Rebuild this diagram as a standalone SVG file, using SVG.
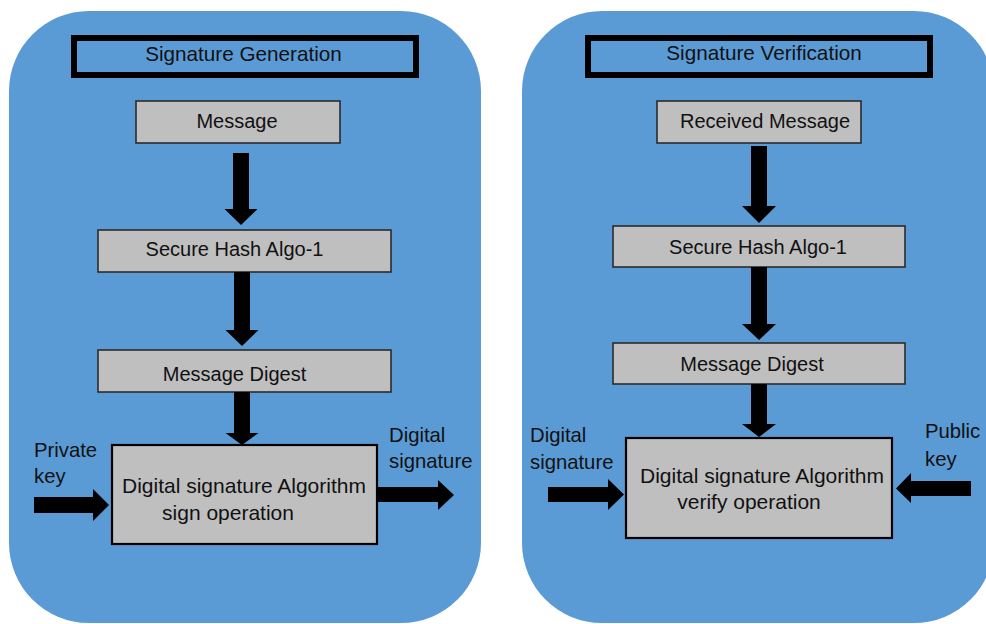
<svg xmlns="http://www.w3.org/2000/svg" width="986" height="624" viewBox="0 0 986 624">
  <style>
    .panel { fill: #5b9bd5; }
    .title { fill: none; stroke: #000; stroke-width: 6; }
    .box { fill: #bfbfbf; stroke: #2b2b2b; stroke-width: 1.6; }
    .big { fill: #bfbfbf; stroke: #000; stroke-width: 2.2; }
    .arrow { fill: #000; }
    text { font-family: "Liberation Sans", Arial, sans-serif; font-size: 20px; fill: #111; }
    .c { text-anchor: middle; }
    .alg { font-size: 21px; }
    .lbl { font-size: 20.3px; }
  </style>

  <!-- panel backgrounds -->
  <rect class="panel" x="9" y="11" width="472" height="612" rx="80" ry="80"/>
  <rect class="panel" x="522" y="11" width="472" height="612" rx="80" ry="80"/>

  <!-- Signature Generation -->
  <g id="gen-title">
    <rect class="title" x="74" y="38" width="342" height="37"/>
    <text class="c" x="243.5" y="61" style="font-size:20.7px">Signature Generation</text>
  </g>
  <g id="gen-message">
    <rect class="box" x="136" y="101" width="204" height="42"/>
    <text class="c" x="237" y="128">Message</text>
  </g>
  <g id="gen-hash">
    <rect class="box" x="98" y="230" width="293" height="42"/>
    <text class="c" x="234.5" y="256">Secure Hash Algo-1</text>
  </g>
  <g id="gen-digest">
    <rect class="box" x="98" y="350" width="293" height="42"/>
    <text class="c" x="234.5" y="381">Message Digest</text>
  </g>
  <g id="gen-dsa">
    <rect class="big" x="112" y="445" width="265" height="99"/>
    <text class="c alg" x="244" y="493">Digital signature Algorithm</text>
    <text class="c alg" x="228" y="520">sign operation</text>
  </g>
  <g id="gen-private-key">
    <text class="lbl" x="34" y="457">Private</text>
    <text class="lbl" x="34" y="483">key</text>
  </g>
  <g id="gen-signature-out">
    <text class="lbl" x="389" y="442">Digital</text>
    <text class="lbl" x="389" y="468">signature</text>
  </g>

  <!-- Signature Verification -->
  <g id="ver-title">
    <rect class="title" x="588" y="38" width="342" height="37"/>
    <text class="c" x="764" y="60" style="font-size:20.7px">Signature Verification</text>
  </g>
  <g id="ver-message">
    <rect class="box" x="657" y="101" width="204" height="42"/>
    <text class="c" x="765" y="128">Received Message</text>
  </g>
  <g id="ver-hash">
    <rect class="box" x="613" y="226" width="292" height="41"/>
    <text class="c" x="758" y="254">Secure Hash Algo-1</text>
  </g>
  <g id="ver-digest">
    <rect class="box" x="613" y="343" width="292" height="41"/>
    <text class="c" x="752" y="371">Message Digest</text>
  </g>
  <g id="ver-dsa">
    <rect class="big" x="626" y="438" width="266" height="100"/>
    <text class="c alg" x="762" y="483">Digital signature Algorithm</text>
    <text class="c alg" x="749" y="509">verify operation</text>
  </g>
  <g id="ver-signature-in">
    <text class="lbl" x="530" y="442">Digital</text>
    <text class="lbl" x="530" y="469">signature</text>
  </g>
  <g id="ver-public-key">
    <text class="lbl" x="925" y="438">Public</text>
    <text class="lbl" x="925" y="466">key</text>
  </g>

  <!-- block arrows -->
  <g id="connectors" class="arrow">
    <polygon points="233,153 249,153 249,209 257.5,209 241,225 224.5,209 233,209"/>
    <polygon points="234,272 250,272 250,330 258.5,330 242,346 225.5,330 234,330"/>
    <polygon points="234,392 250,392 250,433 258.5,433 242,445 225.5,433 234,433"/>
    <polygon points="34,497 93,497 93,489 109,505 93,521 93,513 34,513"/>
    <polygon points="378,487 438,487 438,480 454,495 438,510 438,502 378,502"/>

    <polygon points="751,146 767,146 767,206 776,206 759,223 742,206 751,206"/>
    <polygon points="751,267 767,267 767,324 776,324 759,340 742,324 751,324"/>
    <polygon points="751,384 767,384 767,424 776,424 759,437 742,424 751,424"/>
    <polygon points="548,487 608,487 608,479 624,494.5 608,510 608,502 548,502"/>
    <polygon points="971,481 911,481 911,473 896,488.5 911,503 911,496 971,496"/>
  </g>
</svg>
